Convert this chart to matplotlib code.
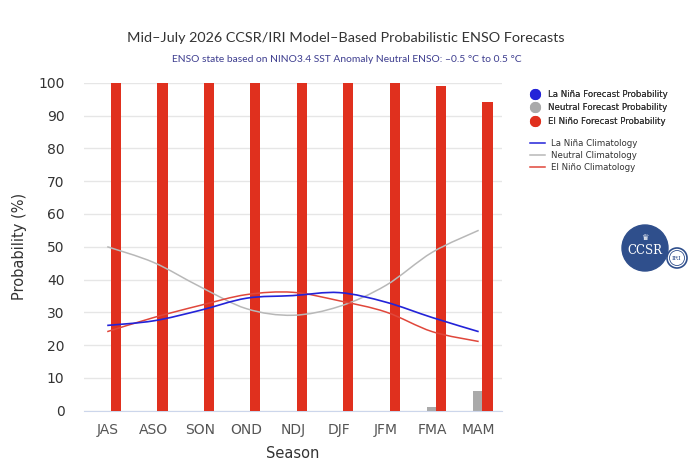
import numpy as np
import matplotlib.pyplot as plt
from matplotlib.path import Path
from matplotlib.patches import PathPatch, Circle
from matplotlib.lines import Line2D

seasons = ["JAS", "ASO", "SON", "OND", "NDJ", "DJF", "JFM", "FMA", "MAM"]

# forecast probabilities (%)
lanina_prob = [0, 0, 0, 0, 0, 0, 0, 0, 0]
neutral_prob = [0, 0, 0, 0, 0, 0, 0, 1, 6]
elnino_prob = [100, 100, 100, 100, 100, 100, 100, 99, 94]

# climatology (%)
lanina_clim = [26, 27.4, 30.6, 34.3, 35.1, 36.0, 33.1, 28.4, 24.1]
neutral_clim = [50, 45.2, 37.8, 31.1, 29.1, 31.8, 38.2, 48.3, 55]
elnino_clim = [24.1, 28.4, 32.1, 35.4, 36.1, 33.5, 30.1, 24.1, 21.1]

BLUE = "#2323d8"
GRAY = "#aaaaaa"
RED = "#e0301e"
RED_LINE = "#e0473b"
GRAY_LINE = "#b8b8b8"


def spline_path(xs, ys):
    # cubic bezier through the points (catmull-rom style), like a spline series
    pts = np.column_stack([xs, ys]).astype(float)
    n = len(pts)
    verts = [pts[0]]
    codes = [Path.MOVETO]
    for i in range(n - 1):
        p0 = pts[i - 1] if i > 0 else pts[i]
        p1 = pts[i]
        p2 = pts[i + 1]
        p3 = pts[i + 2] if i + 2 < n else pts[i + 1]
        c1 = p1 + (p2 - p0) / 6.0
        c2 = p2 - (p3 - p1) / 6.0
        verts += [c1, c2, p2]
        codes += [Path.CURVE4] * 3
    return Path(verts, codes)


fig = plt.figure(figsize=(7.0, 4.76), dpi=100)
ax = fig.add_axes([0.12, 0.1372, 0.597, 0.689])

x = np.arange(len(seasons))
bar_w = 0.22
ax.bar(x - 0.23, lanina_prob, width=bar_w, color=BLUE, zorder=2)
ax.bar(x - 0.02, neutral_prob, width=0.2, color=GRAY, zorder=2)
ax.bar(x + 0.19, elnino_prob, width=bar_w, color=RED, zorder=3)

for vals, col, lw in [(neutral_clim, GRAY_LINE, 1.1),
                      (elnino_clim, RED_LINE, 1.1),
                      (lanina_clim, BLUE, 1.2)]:
    ax.add_patch(PathPatch(spline_path(x, vals), fill=False, edgecolor=col,
                           lw=lw, zorder=4))

ax.set_xlim(-0.5, len(seasons) - 0.5)
ax.set_ylim(0, 100)
ax.set_yticks(np.arange(0, 101, 10))
ax.set_xticks(x)
ax.set_xticklabels(seasons)
ax.grid(axis="y", color="#e6e6e6", lw=1.0, zorder=0)
ax.set_axisbelow(True)
for s in ["top", "right", "left"]:
    ax.spines[s].set_visible(False)
ax.spines["bottom"].set_color("#ccd6eb")
ax.tick_params(axis="both", length=0)
ax.tick_params(axis="y", labelsize=10, colors="#333333", pad=14)
ax.tick_params(axis="x", labelsize=10, colors="#555555", pad=9)
ax.set_ylabel("Probability (%)", fontsize=10.5, color="#333333", labelpad=8)
ax.set_xlabel("Season", fontsize=10.5, color="#333333", labelpad=6)

fig.text(0.494, 0.92, "Mid\u2013July 2026 CCSR/IRI Model\u2013Based Probabilistic ENSO Forecasts",
         ha="center", va="center", fontsize=10.4, color="#333333", family="Lato")
fig.text(0.495, 0.876, "ENSO state based on NINO3.4 SST Anomaly Neutral ENSO: \u20130.5 \u00b0C to 0.5 \u00b0C",
         ha="center", va="center", fontsize=7.4, color="#3d3d8f", family="Lato")

# legends
dots = [Line2D([], [], marker="o", ls="none", ms=7, color=c) for c in (BLUE, GRAY, RED)]
lines = [Line2D([], [], color=c, lw=1.1) for c in (BLUE, GRAY_LINE, RED_LINE)]
leg1 = fig.legend(dots, ["La Ni\u00f1a Forecast Probability", "Neutral Forecast Probability",
                         "El Ni\u00f1o Forecast Probability"],
                  loc="upper left", bbox_to_anchor=(0.757, 0.811), frameon=False,
                  fontsize=6.2, labelspacing=0.5, handlelength=1.2, handletextpad=0.85,
                  labelcolor="#333333", borderpad=0, borderaxespad=0)
fig.legend(lines, ["La Ni\u00f1a Climatology", "Neutral Climatology", "El Ni\u00f1o Climatology"],
           loc="upper left", bbox_to_anchor=(0.757, 0.709), frameon=False,
           fontsize=6.2, labelspacing=0.38, handlelength=1.8, handletextpad=0.65,
           labelcolor="#333333", borderpad=0, borderaxespad=0)
fig.add_artist(leg1)

# CCSR / IRI badge
W, H = 700.0, 476.0
logo = fig.add_axes([600 / W, 1 - 285 / H, 100 / W, 75 / H])
logo.set_xlim(600, 700)
logo.set_ylim(285, 210)
logo.set_aspect("equal")
logo.axis("off")
logo.add_patch(Circle((645, 248), 23, color="#2f4f8c"))
logo.add_patch(Circle((677, 258), 10, facecolor="white", edgecolor="#2f4f8c", lw=1.2))
logo.add_patch(Circle((677, 258), 7.5, facecolor="white", edgecolor="#2f4f8c", lw=0.6))
logo.text(645, 251, "CCSR", ha="center", va="center", fontsize=8.5, color="white",
          family="DejaVu Serif")
logo.text(645, 238, "\u265b", ha="center", va="center", fontsize=6, color="white")
logo.text(677, 258, "IRI", ha="center", va="center", fontsize=4.5, color="#2f4f8c",
          family="DejaVu Serif")

fig.savefig("out.png", dpi=100)
